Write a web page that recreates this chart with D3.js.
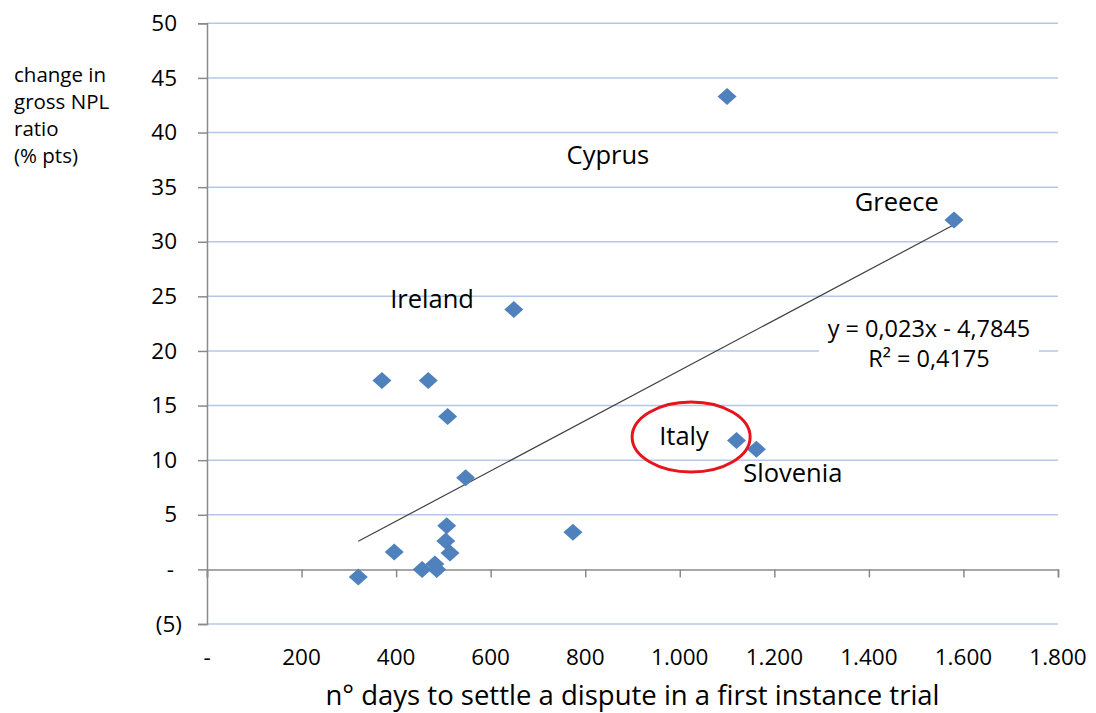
<!DOCTYPE html>
<html>
<head>
<meta charset="utf-8">
<script src="https://cdn.jsdelivr.net/npm/d3@7"></script>
<style>
  body { margin: 0; background: #fff; }
  svg { font-family: "Open Sans", sans-serif; }
</style>
</head>
<body>
<div id="chart"></div>
<script>
// days to settle a dispute (x) vs change in gross NPL ratio (y)
const daysToSettle = [320, 396, 455, 482, 486, 507, 505, 514, 509, 547, 370, 468, 649, 774, 1100, 1120, 1162, 1580];
const nplChange    = [-0.7, 1.6, 0.0, 0.5, 0.0, 4.0, 2.6, 1.5, 14.0, 8.4, 17.3, 17.3, 23.8, 3.4, 43.3, 11.8, 11.0, 32.0];

const xTicks = [0, 200, 400, 600, 800, 1000, 1200, 1400, 1600, 1800];
const yTicks = [-5, 0, 5, 10, 15, 20, 25, 30, 35, 40, 45, 50];

// linear trend line from the chart
const trendSlope = 0.023;
const trendIntercept = -4.7845;
const trendLabel = ["y = 0,023x - 4,7845", "R² = 0,4175"];

// country labels, in data units
const countryNames = ["Cyprus", "Greece", "Ireland", "Italy", "Slovenia"];
const countryX = [848, 1459, 476, 1009, 1239];
const countryY = [37.15, 32.8, 23.9, 11.36, 8.0];

const yTitle = ["change in", "gross NPL", "ratio", "(% pts)"];
const xTitle = "n° days to settle a dispute in a first instance trial";

const W = 1096, H = 713;
const margin = {top: 23.3, right: 38, bottom: 89, left: 207};
const width = W - margin.left - margin.right;
const height = H - margin.top - margin.bottom;

const svg = d3.select("#chart").append("svg")
    .attr("width", W)
    .attr("height", H);

const g = svg.append("g")
    .attr("transform", `translate(${margin.left},${margin.top})`);

const x = d3.scaleLinear().domain([0, 1800]).range([0, width]);
const y = d3.scaleLinear().domain([-5, 50]).range([height, 0]);

const fmtX = d => d === 0 ? "-" : d3.format(",")(d).replace(/,/g, ".");
const fmtY = d => d === 0 ? "-" : (d < 0 ? `(${-d})` : d);

// gridlines
g.append("g").selectAll("line")
    .data(yTicks.filter(d => d !== 0))
    .join("line")
    .attr("x1", 0).attr("x2", width)
    .attr("y1", d => y(d)).attr("y2", d => y(d))
    .attr("stroke", "#b3c8e6")
    .attr("stroke-width", 1.5);

// y axis
const yAxis = g.append("g")
    .call(d3.axisLeft(y).tickValues(yTicks).tickFormat(fmtY).tickSize(9).tickPadding(21));
yAxis.select(".domain").attr("stroke", "#8a8a8a").attr("stroke-width", 1.5);
yAxis.selectAll(".tick line").attr("stroke", "#8a8a8a").attr("stroke-width", 1.5);
yAxis.selectAll(".tick text")
    .attr("font-size", 22.5)
    .attr("fill", "#000")
    .attr("font-family", "Open Sans")
    .attr("dx", d => d < 0 ? 5 : (d === 0 ? -3 : 0));

// x axis on the zero line, labels at the bottom
const xAxis = g.append("g")
    .attr("transform", `translate(0,${y(0)})`)
    .call(d3.axisBottom(x).tickValues(xTicks).tickFormat("").tickSizeOuter(0).tickSize(8));
xAxis.select(".domain").attr("stroke", "#8a8a8a").attr("stroke-width", 1.5);
xAxis.selectAll(".tick line").attr("stroke", "#8a8a8a").attr("stroke-width", 1.5);

g.append("g").selectAll("text")
    .data(xTicks)
    .join("text")
    .attr("x", d => x(d))
    .attr("y", height + 41)
    .attr("text-anchor", "middle")
    .attr("font-size", 22.5)
    .attr("fill", "#000")
    .text(fmtX);

// trend line
const xMin = d3.min(daysToSettle), xMax = d3.max(daysToSettle);
g.append("line")
    .attr("x1", x(xMin)).attr("y1", y(trendSlope * xMin + trendIntercept))
    .attr("x2", x(xMax)).attr("y2", y(trendSlope * xMax + trendIntercept))
    .attr("stroke", "#404040")
    .attr("stroke-width", 1.2);

// diamonds
const diamond = "M0,-8.5L9.5,0L0,8.5L-9.5,0Z";
g.append("g").selectAll("path")
    .data(daysToSettle.map((d, i) => ({x: d, y: nplChange[i]})))
    .join("path")
    .attr("d", diamond)
    .attr("transform", d => `translate(${x(d.x)},${y(d.y)})`)
    .attr("fill", "#4f81bd");

// equation box
const eqX = 1527;
g.append("rect")
    .attr("x", x(eqX) - 110).attr("y", y(21.27) - 19)
    .attr("width", 220).attr("height", 55)
    .attr("fill", "#fff");
g.append("g").selectAll("text")
    .data(trendLabel)
    .join("text")
    .attr("x", x(eqX))
    .attr("y", (d, i) => y(21.27) + i * 30)
    .attr("text-anchor", "middle")
    .attr("font-size", 23.5)
    .attr("fill", "#000")
    .text(d => d);

// country labels
g.append("g").selectAll("text")
    .data(countryNames)
    .join("text")
    .attr("x", (d, i) => x(countryX[i]))
    .attr("y", (d, i) => y(countryY[i]))
    .attr("text-anchor", "middle")
    .attr("font-size", 25.5)
    .attr("fill", "#000")
    .text(d => d);

// red ring around Italy
g.append("ellipse")
    .attr("cx", x(1024)).attr("cy", y(12.12))
    .attr("rx", x(124.8) - x(0)).attr("ry", y(0) - y(3.2))
    .attr("fill", "none")
    .attr("stroke", "#e8141c")
    .attr("stroke-width", 3);

// titles
svg.append("g").selectAll("text")
    .data(yTitle)
    .join("text")
    .attr("x", 14)
    .attr("y", (d, i) => 82 + i * 27)
    .attr("font-size", 20.5)
    .attr("fill", "#000")
    .text(d => d);

svg.append("text")
    .attr("x", margin.left + width / 2)
    .attr("y", 705)
    .attr("text-anchor", "middle")
    .attr("font-size", 27.5)
    .attr("fill", "#000")
    .text(xTitle);
</script>
</body>
</html>
